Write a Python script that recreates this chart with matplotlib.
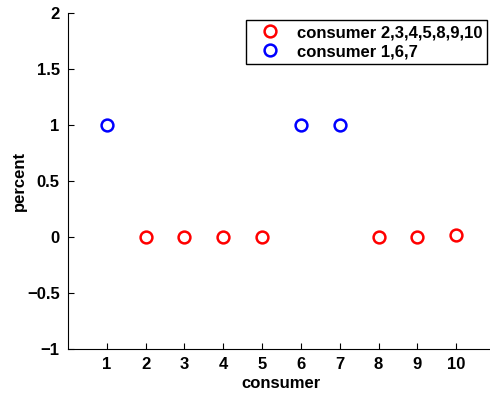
import matplotlib
matplotlib.use("Agg")
import matplotlib.pyplot as plt

plt.rcParams['font.family'] = ['Liberation Sans', 'DejaVu Sans']
plt.rcParams['font.weight'] = 'bold'

red_x = [2, 3, 4, 5, 8, 9, 10]
red_y = [0, 0, 0, 0, 0, 0, 0.02]
blue_x = [1, 6, 7]
blue_y = [1, 1, 1]
xticks = [1, 2, 3, 4, 5, 6, 7, 8, 9, 10]
yticks = [-1, -0.5, 0, 0.5, 1, 1.5, 2]

fig = plt.figure(figsize=(4.9, 3.94), dpi=100)
ax = fig.add_axes([68/490, 45/394, 427/490, 336/394])

ax.plot(red_x, red_y, 'o', color='red', mfc='none', ms=8.5, mew=1.8, label='consumer 2,3,4,5,8,9,10')
ax.plot(blue_x, blue_y, 'o', color='blue', mfc='none', ms=8.5, mew=1.8, label='consumer 1,6,7')

ax.set_xlim(0, 11)
ax.set_ylim(-1, 2)
ax.set_xticks(xticks)
ax.set_yticks(yticks)
ax.set_yticklabels(['\u22121', '\u22120.5', '0', '0.5', '1', '1.5', '2'])
ax.tick_params(direction='in', length=4, labelsize=12, width=0.8, pad=6)
for s in ['top', 'right']:
    ax.spines[s].set_visible(False)
ax.set_xlabel('consumer', fontsize=12, fontweight='bold', labelpad=3)
ax.set_ylabel('percent', fontsize=12, fontweight='bold', labelpad=0)

leg = ax.legend(loc='upper right', bbox_to_anchor=(487/490, 1 - 20/394), bbox_transform=fig.transFigure,
                fontsize=12, fancybox=False, framealpha=1, edgecolor='black',
                borderpad=0.3, handletextpad=0.45, labelspacing=0.25, handlelength=2.3, borderaxespad=0)
leg.get_frame().set_linewidth(1)
for t in leg.get_texts():
    t.set_fontweight('bold')

fig.savefig('out.png', dpi=100)
